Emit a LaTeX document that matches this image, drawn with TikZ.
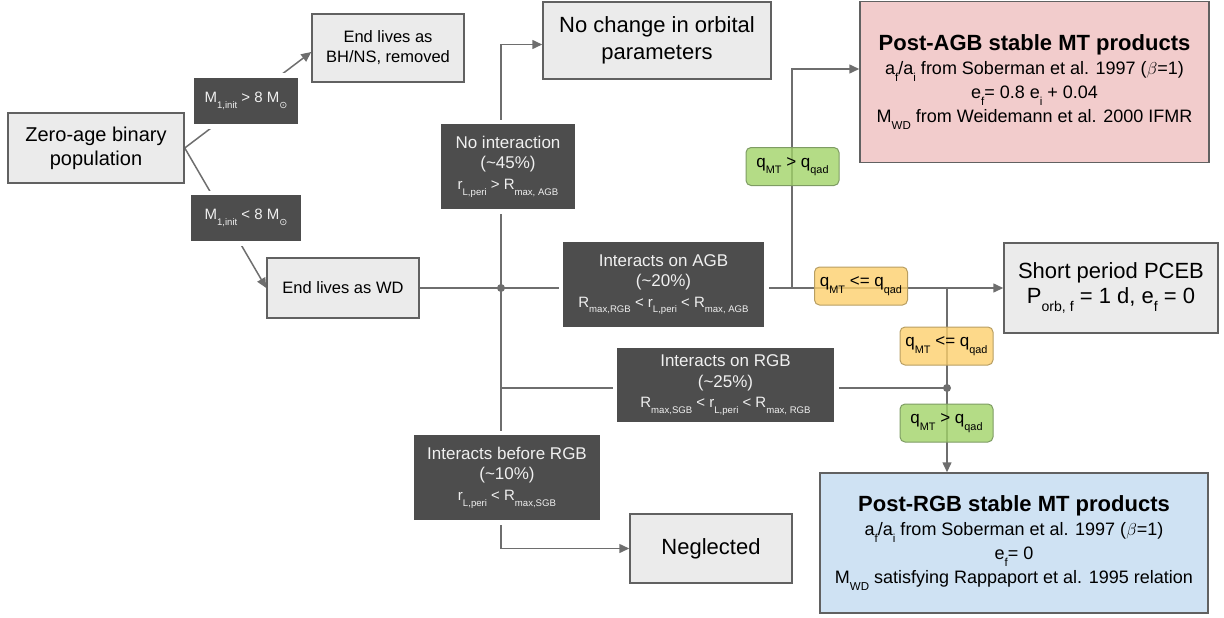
\documentclass[tikz,border=0pt]{standalone}
\usepackage{fontspec}
\setmainfont{Liberation Sans}
\newfontfamily\symfont{DejaVu Sans}
\usetikzlibrary{arrows.meta,backgrounds}
\definecolor{lightbox}{HTML}{EBEBEB}
\definecolor{boxline}{HTML}{616161}
\definecolor{darkfill}{HTML}{4D4D4D}
\definecolor{darktext}{HTML}{F0F0F0}
\definecolor{lineclr}{HTML}{6E6E6E}
\definecolor{greenfill}{HTML}{A1D368}
\definecolor{greenline}{HTML}{7E9C63}
\definecolor{orangefill}{HTML}{FCD06D}
\definecolor{orangeline}{HTML}{B89E62}
\definecolor{pinkfill}{HTML}{F2CCCC}
\definecolor{bluefill}{HTML}{CFE2F3}
\newcommand\fz[2]{\fontsize{#1}{#2}\selectfont}
\newcommand\lo[1]{\raisebox{-0.38em}{\scalebox{0.64}{#1}}}
\begin{document}
\begin{tikzpicture}[x=1pt,y=-1pt,
  box/.style={draw=boxline, line width=1.5pt, fill=lightbox, align=center, inner sep=0pt, text=black},
  dark/.style={fill=darkfill, text=darktext, align=center, inner sep=0pt,
     preaction={draw=white, line width=9pt}, font=\fz{17}{20.5}},
  qbox/.style={rounded corners=5pt, line width=1pt, align=center, inner sep=0pt,
     fill opacity=0.8, text opacity=1, minimum width=93pt, minimum height=38pt, font=\fz{17}{20}},
  qgreen/.style={qbox, fill=greenfill, draw=greenline},
  qorange/.style={qbox, fill=orangefill, draw=orangeline},
  conn/.style={draw=lineclr, line width=1.5pt},
  arr/.style={conn, -{Triangle[length=10pt,width=9pt]}}]
\useasboundingbox (0,0) rectangle (1224,618);

% light boxes
\node[box, minimum width=176pt, minimum height=70pt, font=\fz{20}{24}] (zab) at (96,148) {Zero-age binary\\population};
\node[box, minimum width=152pt, minimum height=68pt, font=\fz{16.5}{20}] (bhns) at (388,48) {End lives as\\BH/NS, removed};
\node[box, minimum width=152pt, minimum height=60pt, font=\fz{16.5}{20}] (wd) at (343,288) {End lives as WD};
\node[box, minimum width=228pt, minimum height=77pt, font=\fz{22}{27}] (nochg) at (657,40.5) {No change in orbital\\parameters};
\node[box, minimum width=162pt, minimum height=69pt, font=\fz{22}{26}] (negl) at (711,548.5) {Neglected};
\node[box, minimum width=214pt, minimum height=90pt, font=\fz{22}{24.5}] (pceb) at (1111,288) {Short period PCEB\\P\lo{orb, f} = 1 d, e\lo{f} = 0};
\node[box, fill=pinkfill, minimum width=349pt, minimum height=161pt, font=\fz{18}{24}] (pagb) at (1034.5,82) {{\fz{22}{24}\bfseries Post-AGB stable MT products}\\a\lo{f}/a\lo{i} from Soberman et al. 1997 ($\beta$=1)\\e\lo{f}= 0.8 e\lo{i} + 0.04\\M\lo{WD} from Weidemann et al. 2000 IFMR};
\node[box, fill=bluefill, minimum width=388pt, minimum height=140pt, font=\fz{18}{24}] (prgb) at (1014,543) {{\fz{22}{24}\bfseries Post-RGB stable MT products}\\a\lo{f}/a\lo{i} from Soberman et al. 1997 ($\beta$=1)\\e\lo{f}= 0\\M\lo{WD} satisfying Rappaport et al. 1995 relation};

% dark label boxes
\node[dark, minimum width=104pt, minimum height=46pt, font=\fz{15}{18}] (m8g) at (246,101) {M\lo{1,init} > 8 M\lo{\symfont ⊙}};
\node[dark, minimum width=110pt, minimum height=46pt, font=\fz{15}{18}] (m8l) at (246,218) {M\lo{1,init} < 8 M\lo{\symfont ⊙}};
\node[dark, minimum width=134pt, minimum height=85pt] (noint) at (508,166.5) {No interaction\\(\textasciitilde45\%)\\{\fz{15}{18}r\lo{L,peri} > R\lo{max, AGB}}};
\node[dark, minimum width=201pt, minimum height=85pt] (agb) at (663.5,284.5) {Interacts on AGB\\(\textasciitilde20\%)\\{\fz{15}{18}R\lo{max,RGB} < r\lo{L,peri} < R\lo{max, AGB}}};
\node[dark, minimum width=217pt, minimum height=74pt] (rgb) at (725.5,385) {Interacts on RGB\\(\textasciitilde25\%)\\{\fz{15}{18}R\lo{max,SGB} < r\lo{L,peri} < R\lo{max, RGB}}};
\node[dark, minimum width=186pt, minimum height=85pt] (brgb) at (507,477.5) {Interacts before RGB\\(\textasciitilde10\%)\\{\fz{15}{18}r\lo{L,peri} < R\lo{max,SGB}}};

% condition boxes
\node[qgreen] (qg1) at (792.5,166.5) {q\lo{MT} > q\lo{qad}};
\node[qorange] (qo1) at (861,286) {q\lo{MT} <= q\lo{qad}};
\node[qorange] (qo2) at (946.5,346) {q\lo{MT} <= q\lo{qad}};
\node[qgreen] (qg2) at (946.5,423) {q\lo{MT} > q\lo{qad}};

% junctions
\coordinate (J1) at (501,288);
\coordinate (J2) at (947,388);
\coordinate (c1) at (792,288);
\coordinate (c2) at (947,288);

\begin{scope}[on background layer]
\draw[arr] (zab.east) -- ([yshift=-4pt]bhns.west);
\draw[arr] (zab.east) -- (wd.west);
\draw[arr] (wd.east) -- (pceb.west);
\draw[arr] (J1) |- ([yshift=-4pt]nochg.west);
\draw[arr] (J1) |- (negl.west);
\draw[conn] (J1 |- J2) -- (J2);
\draw[arr] (c1) |- ([yshift=13pt]pagb.west);
\draw[arr] (c2) -- (c2 |- prgb.north);
\end{scope}
\fill[lineclr] (J1) circle (4pt);
\fill[lineclr] (J2) circle (4pt);
\end{tikzpicture}
\end{document}
